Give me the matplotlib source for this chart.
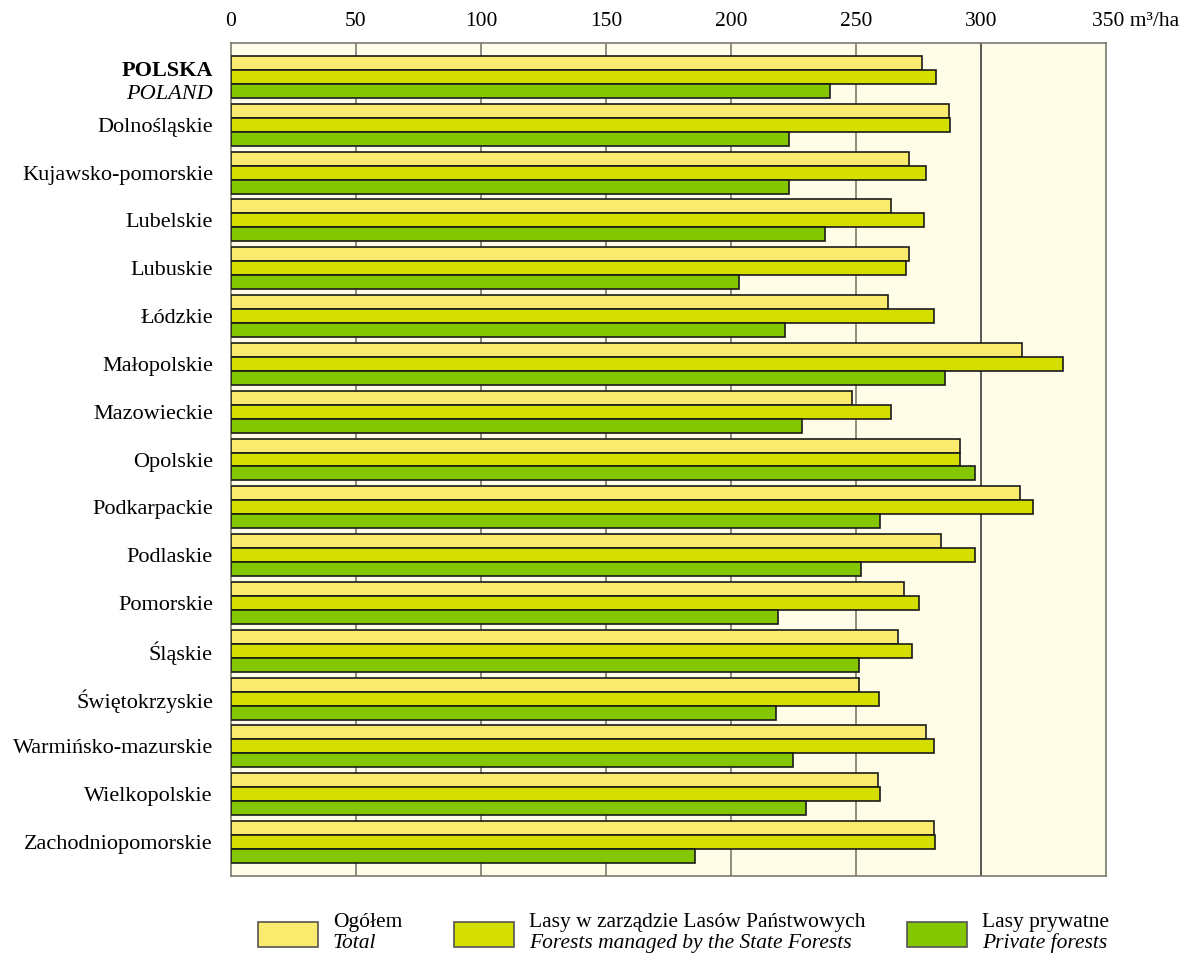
import matplotlib.pyplot as plt
import matplotlib.transforms as mtransforms
import numpy as np
from matplotlib.patches import Rectangle

plt.rcParams['font.family'] = ['Liberation Serif', 'DejaVu Serif']

regions = ["POLSKA", "Dolnośląskie", "Kujawsko-pomorskie", "Lubelskie", "Lubuskie",
           "Łódzkie", "Małopolskie", "Mazowieckie", "Opolskie", "Podkarpackie",
           "Podlaskie", "Pomorskie", "Śląskie", "Świętokrzyskie",
           "Warmińsko-mazurskie", "Wielkopolskie", "Zachodniopomorskie"]
total = [276.5, 287, 271.3, 264, 271, 262.6, 316.4, 248.2, 291.7, 315.6,
         284, 269, 266.6, 251, 278, 258.6, 281.3]
state = [282, 287.7, 278, 277.3, 270, 281, 332.8, 263.8, 291.7, 320.8,
         297.7, 275.3, 272.5, 259, 281.3, 259.4, 281.7]
private = [239.4, 223, 223, 237.4, 203, 221.5, 285.7, 228.3, 297.7, 259.4,
           251.8, 218.7, 251, 217.9, 224.7, 229.9, 185.6]
xticks = [0, 50, 100, 150, 200, 250, 300]

c_total = '#FAEB6E'
c_state = '#D4DF00'
c_priv = '#84C600'

fig = plt.figure(figsize=(11.82, 9.55), dpi=100)
ax = fig.add_axes([231/1182, 1-876/955, 875/1182, 833/955])
ax.set_facecolor('#FFFDE8')

y = np.arange(len(regions))
h = 0.292
for vals, col, off in [(total, c_total, -h), (state, c_state, 0), (private, c_priv, h)]:
    ax.barh(y + off, vals, height=h, color=col, edgecolor='#1a1a1a', linewidth=1.2, zorder=3)

for xv in [50, 100, 150, 200, 250]:
    ax.axvline(xv, color='#7a7a70', lw=1.2, zorder=1)
ax.axvline(300, color='#3a3a3a', lw=1.2, zorder=1)

ax.set_xlim(0, 350)
ax.set_ylim(16.71, -0.71)
ax.xaxis.tick_top()
ax.set_xticks(xticks)
ax.set_xticklabels([str(t) for t in xticks], fontsize=15.5)
ax.tick_params(axis='x', length=0, pad=9)

# unit label next to 350
trans = mtransforms.blended_transform_factory(ax.transData, ax.transAxes)
trans = mtransforms.offset_copy(trans, fig=fig, x=-14, y=12.5, units='dots')
ax.text(350, 1, "350 m³/ha", transform=trans, fontsize=15.5,
        ha='left', va='bottom', clip_on=False)

ax.set_yticks(y[1:])
ax.set_yticklabels(regions[1:], fontsize=16)
ax.tick_params(axis='y', length=0, pad=13)
ax.text(-7.2, -0.13, "POLSKA", fontsize=16, fontweight='bold', ha='right', va='center')
ax.text(-7.2, 0.36, "POLAND", fontsize=16, style='italic', ha='right', va='center')

for s in ax.spines.values():
    s.set_color('#7a7a70')
    s.set_linewidth(1.2)

legend_items = [(258, c_total, "Ogółem", "Total"),
                (454, c_state, "Lasy w zarządzie Lasów Państwowych", "Forests managed by the State Forests"),
                (907, c_priv, "Lasy prywatne", "Private forests")]
for px, col, t1, t2 in legend_items:
    fig.add_artist(Rectangle((px/1182, 1-947/955), 60/1182, 25/955, transform=fig.transFigure,
                             facecolor=col, edgecolor='#555555', linewidth=1.2))
    fig.text((px+75)/1182, 1-922/955, t1, fontsize=15.5, ha='left', va='center')
    fig.text((px+75)/1182, 1-943/955, t2, fontsize=15.5, style='italic', ha='left', va='center')

fig.savefig('out.png', dpi=100)
